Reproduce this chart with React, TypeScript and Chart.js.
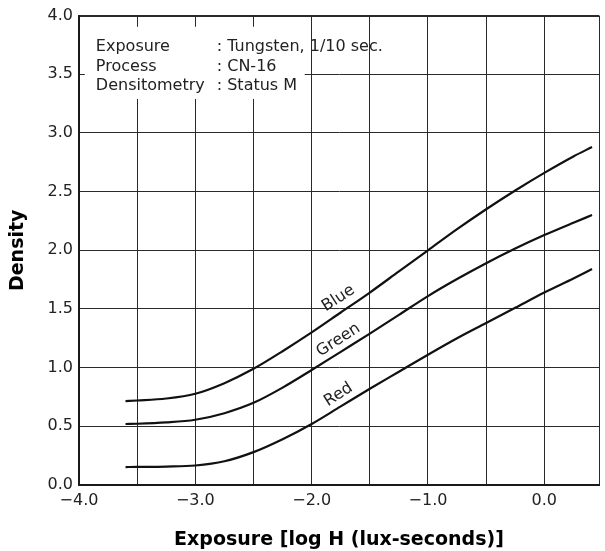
import { useEffect, useRef } from 'react';
import { Chart, registerables } from 'chart.js';

Chart.register(...registerables);

// ---- data ----
const exposureX = [-3.6, -3.5, -3.25, -3.0, -2.75, -2.5, -2.25, -2.0, -1.75, -1.5, -1.25, -1.0, -0.75, -0.5, -0.25, 0.0, 0.25, 0.41];
const blueDensity = [0.715, 0.72, 0.737, 0.778, 0.868, 0.99, 1.14, 1.3, 1.47, 1.64, 1.82, 2.0, 2.18, 2.35, 2.51, 2.66, 2.8, 2.88];
const greenDensity = [0.52, 0.522, 0.533, 0.556, 0.612, 0.7, 0.83, 0.98, 1.135, 1.29, 1.45, 1.61, 1.755, 1.89, 2.015, 2.13, 2.235, 2.3];
const redDensity = [0.153, 0.154, 0.157, 0.166, 0.202, 0.28, 0.39, 0.52, 0.67, 0.82, 0.965, 1.11, 1.25, 1.38, 1.51, 1.64, 1.76, 1.84];

const seriesNames = ['Blue', 'Green', 'Red'];
const seriesLabelX = [-1.77, -1.77, -1.77];
const seriesLabelY = [1.59, 1.235, 0.77];
const seriesLabelAngle = -33;

const X_MIN = -4.0;
const X_MAX = 0.47;
const Y_MIN = 0.0;
const Y_MAX = 4.0;
const xGridValues = [-4.0, -3.5, -3.0, -2.5, -2.0, -1.5, -1.0, -0.5, 0.0];
const xTickValues = [-4.0, -3.0, -2.0, -1.0, 0.0];
const xTickLabels = ['\u22124.0', '\u22123.0', '\u22122.0', '\u22121.0', '0.0'];
const yTickValues = [0.0, 0.5, 1.0, 1.5, 2.0, 2.5, 3.0, 3.5, 4.0];
const yTickLabels = ['0.0', '0.5', '1.0', '1.5', '2.0', '2.5', '3.0', '3.5', '4.0'];

const xTitle = 'Exposure [log H (lux-seconds)]';
const yTitle = 'Density';

const noteKeys = ['Exposure', 'Process', 'Densitometry'];
const noteValues = [': Tungsten, 1/10 sec.', ': CN-16', ': Status M'];
const noteKeyX = -3.855;
const noteValueX = -2.816;
const noteBaselineY = [3.7, 3.53, 3.37];
const noteBoxX = [-3.95, -2.06];
const noteBoxY = [3.29, 3.905];

const FONT = '"DejaVu Sans", sans-serif';
const INK = '#1a1a1a';

const toPoints = (ys: number[]) => exposureX.map((x, i) => ({ x, y: ys[i] }));

const annotationPlugin = {
  id: 'annotations',
  beforeDatasetsDraw(chart: any) {
    const { ctx, scales } = chart;
    const x = scales.x;
    const y = scales.y;
    ctx.save();
    const bx0 = x.getPixelForValue(noteBoxX[0]);
    const bx1 = x.getPixelForValue(noteBoxX[1]);
    const by0 = y.getPixelForValue(noteBoxY[1]);
    const by1 = y.getPixelForValue(noteBoxY[0]);
    ctx.fillStyle = '#ffffff';
    ctx.fillRect(bx0, by0, bx1 - bx0, by1 - by0);
    ctx.fillStyle = '#222';
    ctx.font = `16px ${FONT}`;
    ctx.textAlign = 'left';
    ctx.textBaseline = 'alphabetic';
    noteKeys.forEach((k, i) => {
      const py = y.getPixelForValue(noteBaselineY[i]);
      ctx.fillText(k, x.getPixelForValue(noteKeyX), py);
      ctx.fillText(noteValues[i], x.getPixelForValue(noteValueX), py);
    });
    ctx.restore();
  },
  afterDatasetsDraw(chart: any) {
    const { ctx, scales } = chart;
    const x = scales.x;
    const y = scales.y;
    ctx.save();
    ctx.fillStyle = '#222';
    ctx.font = `16px ${FONT}`;
    ctx.textAlign = 'center';
    ctx.textBaseline = 'middle';
    seriesNames.forEach((name, i) => {
      ctx.save();
      ctx.translate(x.getPixelForValue(seriesLabelX[i]), y.getPixelForValue(seriesLabelY[i]));
      ctx.rotate((seriesLabelAngle * Math.PI) / 180);
      ctx.fillText(name, 0, 0);
      ctx.restore();
    });
    ctx.restore();
  },
};

const labelFor = (values: number[], labels: string[], v: number) => {
  const idx = values.findIndex((t) => Math.abs(t - v) < 1e-6);
  return idx >= 0 ? labels[idx] : '';
};

export default function App() {
  const canvasRef = useRef<HTMLCanvasElement | null>(null);

  useEffect(() => {
    if (!canvasRef.current) return;
    const lineStyle = {
      borderColor: '#111',
      borderWidth: 2.2,
      pointRadius: 0,
      fill: false,
      cubicInterpolationMode: 'monotone' as const,
    };
    const chart = new Chart(canvasRef.current, {
      type: 'line',
      data: {
        datasets: [
          { label: seriesNames[0], data: toPoints(blueDensity), ...lineStyle },
          { label: seriesNames[1], data: toPoints(greenDensity), ...lineStyle },
          { label: seriesNames[2], data: toPoints(redDensity), ...lineStyle },
        ],
      },
      options: {
        animation: false,
        responsive: false,
        maintainAspectRatio: false,
        layout: { padding: { left: 3, top: 14, right: 1, bottom: 0 } },
        plugins: { legend: { display: false }, tooltip: { enabled: false } },
        scales: {
          x: {
            type: 'linear',
            min: X_MIN,
            max: X_MAX,
            afterBuildTicks: (scale: any) => {
              scale.ticks = [...xGridValues, X_MAX].map((v) => ({ value: v }));
            },
            afterFit: (scale: any) => {
              scale.height = 66;
            },
            ticks: {
              autoSkip: false,
              maxRotation: 0,
              minRotation: 0,
              padding: 6,
              color: '#222',
              font: { family: FONT, size: 16 },
              callback: (v: any) => labelFor(xTickValues, xTickLabels, Number(v)),
            },
            grid: { color: '#2a2a2a', lineWidth: 1, drawTicks: false },
            border: { display: true, color: INK, width: 2 },
            title: {
              display: true,
              text: xTitle,
              color: '#000',
              font: { family: FONT, size: 19, weight: 'bold' },
              padding: { top: 0, bottom: 0 },
            },
          },
          y: {
            type: 'linear',
            min: Y_MIN,
            max: Y_MAX,
            afterBuildTicks: (scale: any) => {
              scale.ticks = yTickValues.map((v) => ({ value: v }));
            },
            afterFit: (scale: any) => {
              scale.width = 76;
            },
            ticks: {
              autoSkip: false,
              padding: 6,
              color: '#222',
              font: { family: FONT, size: 16 },
              callback: (v: any) => labelFor(yTickValues, yTickLabels, Number(v)),
            },
            grid: {
              color: '#2a2a2a',
              lineWidth: (c: any) => (c.tick && Math.abs(c.tick.value - Y_MAX) < 1e-6 ? 2 : 1),
              drawTicks: false,
            },
            border: { display: true, color: INK, width: 2 },
            title: {
              display: true,
              text: yTitle,
              color: '#000',
              font: { family: FONT, size: 19, weight: 'bold' },
              padding: { top: 4, bottom: 0 },
            },
          },
        },
      },
      plugins: [annotationPlugin],
    });
    return () => chart.destroy();
  }, []);

  return (
    <div style={{ position: 'absolute', left: 0, top: 0, width: 605, height: 551, background: '#fff' }}>
      <canvas ref={canvasRef} width={605} height={551} style={{ width: 605, height: 551, display: 'block' }} />
    </div>
  );
}
